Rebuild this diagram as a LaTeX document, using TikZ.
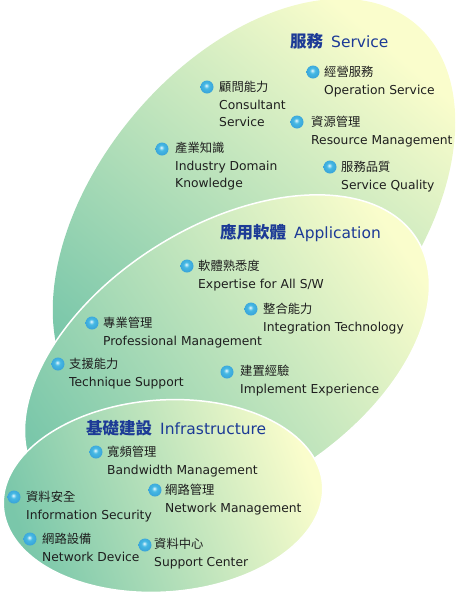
\documentclass[tikz,border=0pt]{standalone}
\usepackage{fontspec}
\setmainfont{DejaVu Sans}
\newfontfamily\cjk{Noto Sans CJK TC}
\usepackage{tikz}
\usetikzlibrary{shadings}
\definecolor{leaf}{RGB}{122,199,170}
\definecolor{pale}{RGB}{250,253,204}
\definecolor{titleblue}{RGB}{28,58,150}
\definecolor{txt}{RGB}{30,30,30}
\definecolor{orbhi}{RGB}{235,250,255}
\definecolor{orbmid}{RGB}{70,185,228}
\definecolor{orbedge}{RGB}{30,120,195}
\pgfdeclareradialshading{orb}{\pgfpoint{-3bp}{6bp}}{color(0bp)=(orbhi); color(10bp)=(orbmid); color(30bp)=(orbmid!60!orbedge); color(45bp)=(orbedge); color(60bp)=(orbedge)}
\newcommand{\zh}[1]{{\cjk\bfseries\fontsize{16.5}{18}\selectfont #1}}

\begin{document}
\begin{tikzpicture}[x=1pt, y=-1pt,
  bullet/.style={circle, inner sep=0pt, minimum size=13pt, shading=orb},
  item/.style={anchor=north west, inner sep=0pt, align=left, text=txt, font=\fontsize{12.3}{17.5}\selectfont},
  ttl/.style={anchor=west, inner sep=0pt, text=titleblue, font=\fontsize{15.5}{18}\selectfont},
  layer/.style={top color=pale, bottom color=leaf, shading angle=#1}]

\useasboundingbox (0,0) rectangle (457,595);

% Layers as ellipses, back to front
\shade[layer=-40, rotate around={50:(254,216)}] (254,216) ellipse [x radius=251pt, y radius=157pt];
\shadedraw[layer=-56, draw=white, line width=1.5pt, rotate around={32:(227,358)}] (227,358) ellipse [x radius=224pt, y radius=132pt];
\shadedraw[layer=-70, draw=white, line width=1.5pt, rotate around={4:(163,496)}] (163,496) ellipse [x radius=160pt, y radius=96pt];

% Service
\node (svc) [ttl] at (290,41) {\zh{服務}\hspace{8pt}Service};
\node (op) [bullet] at (313,72) {};
\node (opt) [item] at (324,66) {{\cjk 經營服務}\\Operation Service};
\node (con) [bullet] at (207,87) {};
\node (cont) [item] at (219,81) {{\cjk 顧問能力}\\Consultant\\Service};
\node (res) [bullet] at (297,122) {};
\node (rest) [item] at (311,116) {{\cjk 資源管理}\\Resource Management};
\node (ind) [bullet] at (162,149) {};
\node (indt) [item] at (175,142) {{\cjk 產業知識}\\Industry Domain\\Knowledge};
\node (qua) [bullet] at (330,167) {};
\node (quat) [item] at (341,161) {{\cjk 服務品質}\\Service Quality};

% Application
\node (app) [ttl] at (220,233) {\zh{應用軟體}\hspace{8pt}Application};
\node (exp) [bullet] at (187,266) {};
\node (expt) [item] at (198,260) {{\cjk 軟體熟悉度}\\Expertise for All S/W};
\node (int) [bullet] at (251,309) {};
\node (intt) [item] at (263,303) {{\cjk 整合能力}\\Integration Technology};
\node (pro) [bullet] at (92,323) {};
\node (prot) [item] at (103,317) {{\cjk 專業管理}\\Professional Management};
\node (tec) [bullet] at (58,364) {};
\node (tect) [item] at (69,358) {{\cjk 支援能力}\\Technique Support};
\node (imp) [bullet] at (227,372) {};
\node (impt) [item] at (240,365) {{\cjk 建置經驗}\\Implement Experience};

% Infrastructure
\node (inf) [ttl] at (86,428) {\zh{基礎建設}\hspace{8pt}Infrastructure};
\node (bw) [bullet] at (96,452) {};
\node (bwt) [item] at (107,446) {{\cjk 寬頻管理}\\Bandwidth Management};
\node (sec) [bullet] at (14,497) {};
\node (sect) [item] at (26,491) {{\cjk 資料安全}\\Information Security};
\node (net) [bullet] at (155,490) {};
\node (nett) [item] at (165,484) {{\cjk 網路管理}\\Network Management};
\node (dev) [bullet] at (30,539) {};
\node (devt) [item] at (42,533) {{\cjk 網路設備}\\Network Device};
\node (ctr) [bullet] at (145,545) {};
\node (ctrt) [item] at (154,538) {{\cjk 資料中心}\\Support Center};

\end{tikzpicture}
\end{document}
